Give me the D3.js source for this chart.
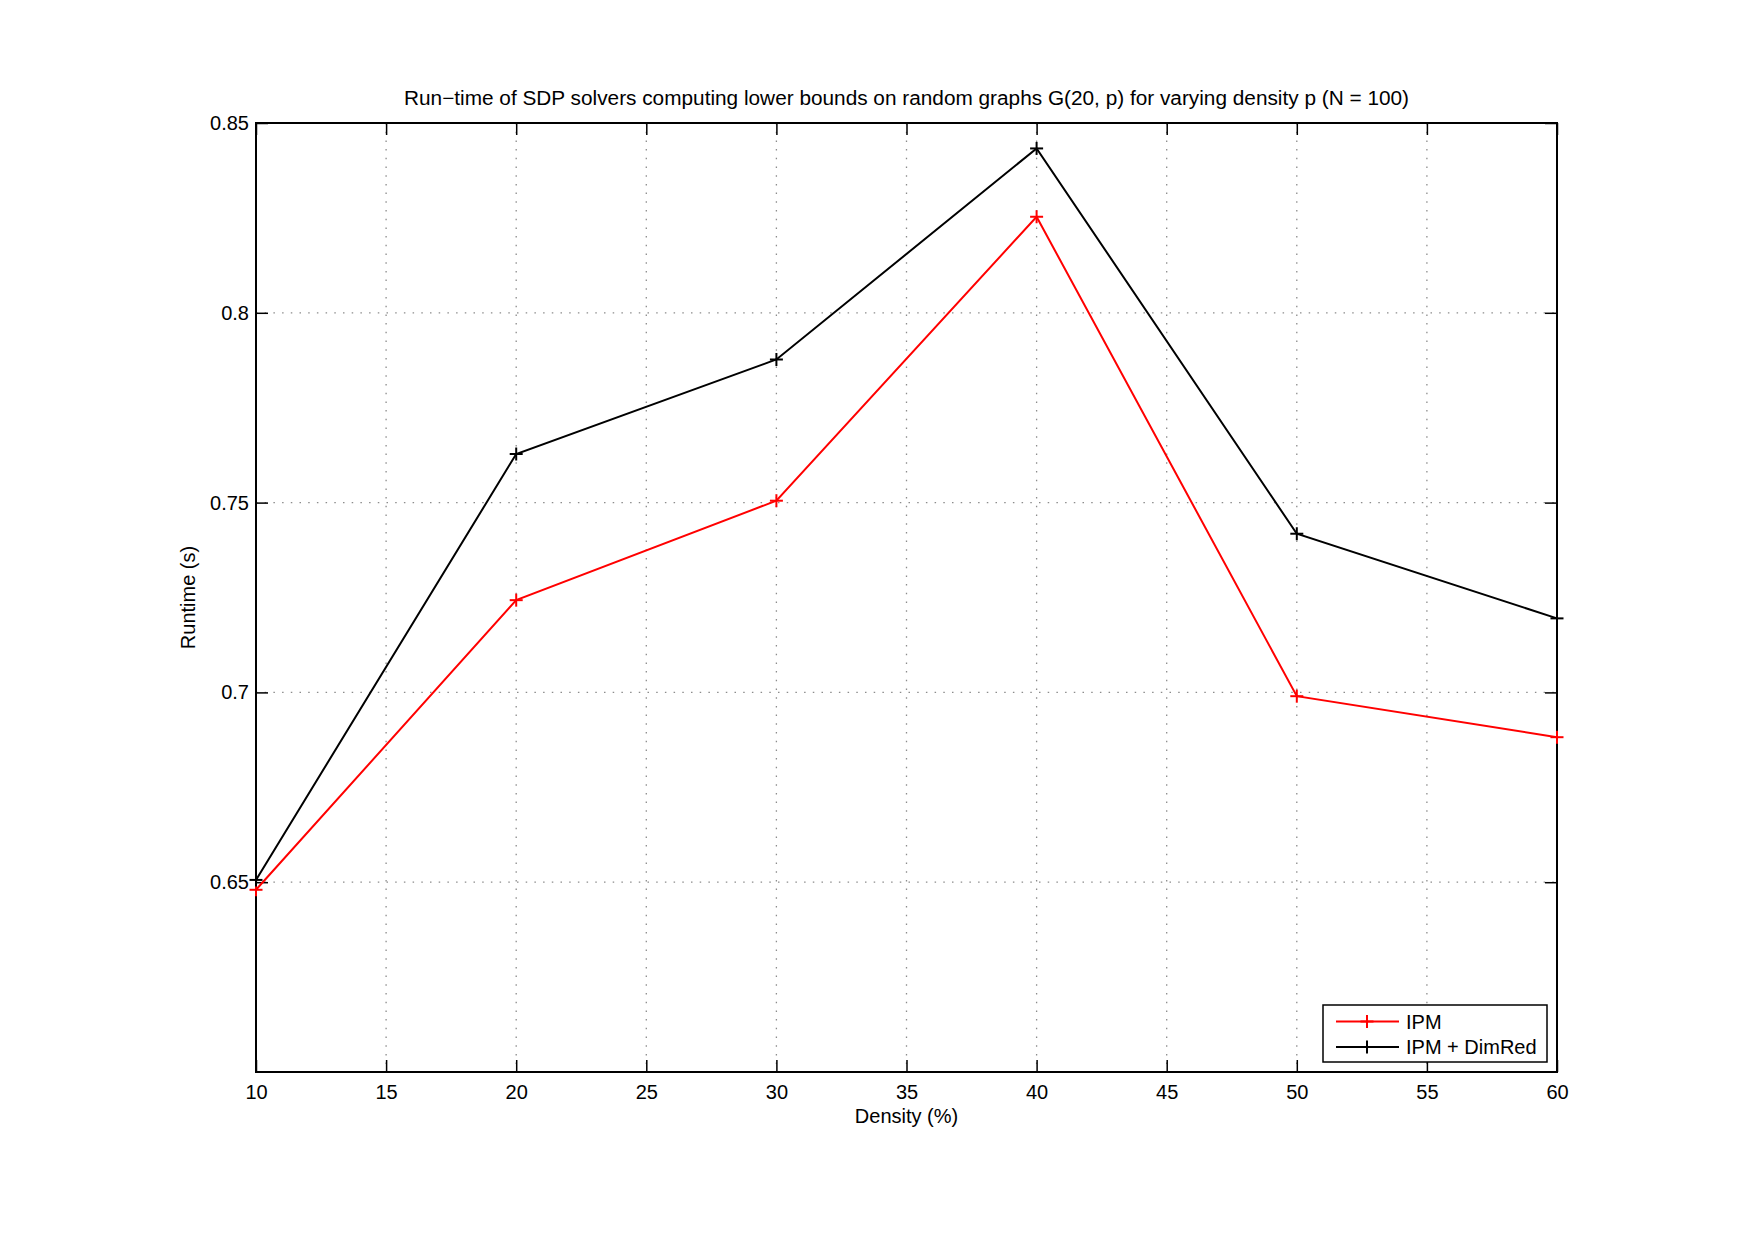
<!DOCTYPE html>
<html>
<head>
<meta charset="utf-8">
<script src="https://cdn.jsdelivr.net/npm/d3@7"></script>
<style>
  html, body { margin: 0; padding: 0; background: #fff; }
  svg { display: block; font-family: "Liberation Sans", Arial, Helvetica, sans-serif; }
</style>
</head>
<body>
<svg id="chart" width="1755" height="1240"></svg>
<script>
// ---- data ----
const densities = [10, 20, 30, 40, 50, 60];
const ipm = [0.648, 0.7243, 0.7505, 0.8253, 0.6990, 0.6882];
const ipmDimRed = [0.6506, 0.7628, 0.7877, 0.8433, 0.7418, 0.7195];
const xTicks = [10, 15, 20, 25, 30, 35, 40, 45, 50, 55, 60];
const yTicks = [0.65, 0.7, 0.75, 0.8, 0.85];
const yGridTicks = [0.65, 0.7, 0.75, 0.8];
const seriesNames = ["IPM", "IPM + DimRed"];
const seriesColors = ["#ff0000", "#000000"];
const titleText = "Run\u2212time of SDP solvers computing lower bounds on random graphs G(20, p) for varying density p (N = 100)";
const xLabel = "Density (%)";
const yLabel = "Runtime (s)";

// ---- layout ----
const svg = d3.select("#chart");
const L = 256, R = 1557, T = 123, B = 1072;
const x = d3.scaleLinear().domain([10, 60]).range([L, R]);
const y = d3.scaleLinear().domain([0.6, 0.85]).range([B, T]);
const tickLen = 12;

// grid
const grid = svg.append("g").attr("stroke", "#8c8c8c").attr("stroke-width", 1.3)
  .attr("stroke-dasharray", "1.5 7.2");
grid.selectAll("line.gx").data(xTicks.slice(1, -1)).enter().append("line")
  .attr("x1", d => x(d)).attr("x2", d => x(d)).attr("y1", T).attr("y2", B);
grid.selectAll("line.gy").data(yGridTicks).enter().append("line")
  .attr("y1", d => y(d)).attr("y2", d => y(d)).attr("x1", L).attr("x2", R);

// axes with inward ticks (bottom, top, left, right)
function styleAxis(g) {
  g.select(".domain").remove();
  g.selectAll(".tick line").attr("stroke", "#000").attr("stroke-width", 1.5);
  g.selectAll(".tick text").attr("fill", "#000").style("font-size", "20px")
    .style("font-family", "'Liberation Sans', Arial, sans-serif");
}
const xb = svg.append("g").attr("transform", `translate(0,${B})`)
  .call(d3.axisBottom(x).tickValues(xTicks).tickSize(-tickLen).tickPadding(13).tickFormat(d3.format("d")));
styleAxis(xb);
xb.selectAll(".tick text").attr("dy", "0.71em");
const xt = svg.append("g").attr("transform", `translate(0,${T})`)
  .call(d3.axisTop(x).tickValues(xTicks).tickSize(-tickLen).tickFormat(""));
styleAxis(xt);
const yl = svg.append("g").attr("transform", `translate(${L},0)`)
  .call(d3.axisLeft(y).tickValues(yTicks).tickSize(-tickLen).tickPadding(7).tickFormat(d => String(d)));
styleAxis(yl);
const yr = svg.append("g").attr("transform", `translate(${R},0)`)
  .call(d3.axisRight(y).tickValues(yTicks).tickSize(-tickLen).tickFormat(""));
styleAxis(yr);

// box
svg.append("rect").attr("x", L).attr("y", T).attr("width", R - L).attr("height", B - T)
  .attr("fill", "none").attr("stroke", "#000").attr("stroke-width", 2);

// series
const series = [ipm, ipmDimRed];
const line = d3.line().x((d, i) => x(densities[i])).y(d => y(d));
const ms = 6.5;
series.forEach((vals, si) => {
  const g = svg.append("g");
  g.append("path").datum(vals).attr("d", line).attr("fill", "none")
    .attr("stroke", seriesColors[si]).attr("stroke-width", 2);
  const mk = g.selectAll("g.m").data(vals).enter().append("g")
    .attr("transform", (d, i) => `translate(${x(densities[i])},${y(d)})`);
  mk.append("line").attr("x1", -ms).attr("x2", ms).attr("y1", 0).attr("y2", 0)
    .attr("stroke", seriesColors[si]).attr("stroke-width", 2);
  mk.append("line").attr("y1", -ms).attr("y2", ms).attr("x1", 0).attr("x2", 0)
    .attr("stroke", seriesColors[si]).attr("stroke-width", 2);
});

// title and labels
svg.append("text").attr("x", (L + R) / 2 + 0).attr("y", 105).attr("text-anchor", "middle")
  .style("font-size", "20px").attr("textLength", 1005).attr("lengthAdjust", "spacingAndGlyphs")
  .text(titleText);
svg.append("text").attr("x", (L + R) / 2).attr("y", 1123).attr("text-anchor", "middle")
  .style("font-size", "20px").text(xLabel);
svg.append("text").attr("transform", `translate(195,${(T + B) / 2}) rotate(-90)`)
  .attr("text-anchor", "middle").style("font-size", "20px").text(yLabel);

// legend
const lg = svg.append("g");
lg.append("rect").attr("x", 1323).attr("y", 1005).attr("width", 224).attr("height", 57)
  .attr("fill", "#fff").attr("stroke", "#000").attr("stroke-width", 1.5);
const rowsY = [1021.5, 1047];
seriesNames.forEach((name, i) => {
  const ry = rowsY[i];
  lg.append("line").attr("x1", 1336).attr("x2", 1399).attr("y1", ry).attr("y2", ry)
    .attr("stroke", seriesColors[i]).attr("stroke-width", 2);
  lg.append("line").attr("x1", 1367 - ms).attr("x2", 1367 + ms).attr("y1", ry).attr("y2", ry)
    .attr("stroke", seriesColors[i]).attr("stroke-width", 2);
  lg.append("line").attr("x1", 1367).attr("x2", 1367).attr("y1", ry - ms).attr("y2", ry + ms)
    .attr("stroke", seriesColors[i]).attr("stroke-width", 2);
  lg.append("text").attr("x", 1406).attr("y", ry).attr("dy", "0.36em")
    .style("font-size", "20px").text(name);
});
</script>
</body>
</html>
